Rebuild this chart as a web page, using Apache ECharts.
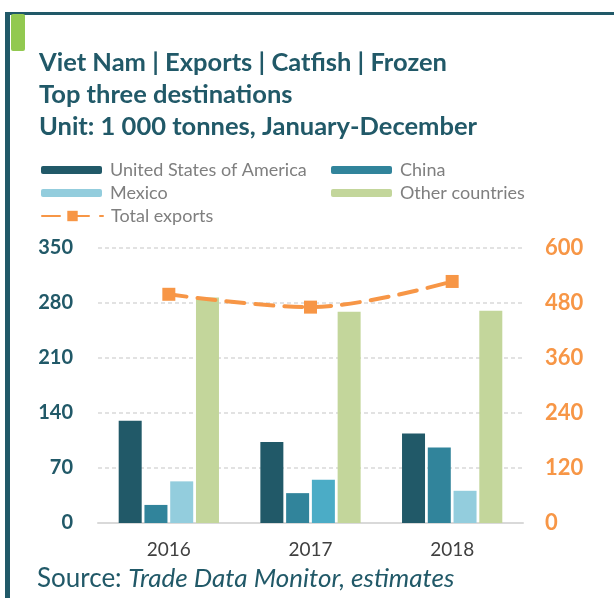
<!DOCTYPE html>
<html>
<head>
<meta charset="utf-8">
<script src="https://cdn.jsdelivr.net/npm/echarts@6/dist/echarts.min.js"></script>
<style>
  html, body { margin: 0; padding: 0; background: #fff; }
  #main { width: 614px; height: 598px; }
</style>
</head>
<body>
<div id="main"></div>
<script>
// categories and values (1 000 tonnes)
var years = ['2016', '2017', '2018'];
var usa = [130, 103, 114];
var china = [23, 38, 96];
var mexico = [53, 55, 41];
var others = [287, 269, 270];
var total = [499, 471, 527];

var leftTicks = [0, 70, 140, 210, 280, 350];
var rightTicks = [0, 120, 240, 360, 480, 600];

var teal = '#215968';
var font = 'Lato';

var myChart = echarts.init(document.getElementById('main'));

// mexico 2017 bar is drawn in a brighter blue in the original
var mexicoData = mexico.map(function (v, i) {
    return i === 1 ? { value: v, itemStyle: { color: '#4bacc6' } } : v;
});

function legendAt(name, left, top) {
    return {
        data: [name],
        left: left,
        top: top,
        itemWidth: 61,
        itemHeight: 8,
        itemGap: 0,
        textStyle: { color: '#7f7f7f', fontSize: 18, fontFamily: font, padding: [0, 0, 0, 3] },
        selectedMode: false
    };
}

myChart.setOption({
    animation: false,
    backgroundColor: '#fff',
    title: {
        text: 'Viet Nam | Exports | Catfish | Frozen\nTop three destinations\nUnit: 1 000 tonnes, January-December',
        left: 34,
        top: 42,
        textStyle: { color: teal, fontSize: 25.5, fontWeight: 'bold', fontFamily: font, lineHeight: 32 }
    },
    graphic: [
        // frame
        { type: 'rect', shape: { x: 5, y: 12, width: 609, height: 3 }, style: { fill: teal } },
        { type: 'rect', shape: { x: 5, y: 12, width: 5, height: 586 }, style: { fill: teal } },
        { type: 'rect', shape: { x: 11, y: 14, width: 14, height: 37, r: 2 }, style: { fill: '#92c950' } },
        {
            type: 'text', left: 37, top: 566,
            style: {
                text: '{n|Source: }{i|Trade Data Monitor, estimates}',
                rich: {
                    n: { fontSize: 26, fontFamily: font, fill: teal },
                    i: { fontSize: 26, fontFamily: font, fontStyle: 'italic', fill: teal }
                }
            }
        }
    ],
    legend: [
        legendAt('United States of America', 36, 156),
        legendAt('China', 326, 156),
        legendAt('Mexico', 36, 179),
        legendAt('Other countries', 326, 179),
        Object.assign(legendAt('Total exports', 36, 202), { itemHeight: 13 })
    ],
    grid: { left: 98, right: 91, top: 248, bottom: 75 },
    xAxis: {
        type: 'category',
        data: years,
        axisTick: { show: false },
        axisLine: { lineStyle: { color: '#d9d9d9', width: 2 } },
        axisLabel: { color: '#404040', fontSize: 19, fontFamily: font, margin: 17 }
    },
    yAxis: [
        {
            type: 'value',
            min: leftTicks[0],
            max: leftTicks[leftTicks.length - 1],
            interval: leftTicks[1] - leftTicks[0],
            axisLine: { show: false },
            axisTick: { show: false },
            splitLine: { lineStyle: { color: '#d9d9d9', type: [4, 3], width: 1.5 } },
            axisLabel: { color: teal, fontSize: 20, fontWeight: 'bold', fontFamily: font, margin: 25 }
        },
        {
            type: 'value',
            min: rightTicks[0],
            max: rightTicks[rightTicks.length - 1],
            interval: rightTicks[1] - rightTicks[0],
            axisLine: { show: false },
            axisTick: { show: false },
            splitLine: { show: false },
            axisLabel: { color: '#f79646', fontSize: 22, fontWeight: 'bold', fontFamily: font, margin: 22 }
        }
    ],
    series: [
        {
            name: 'United States of America', type: 'bar', data: usa,
            barWidth: 23, barGap: '12%', itemStyle: { color: teal }
        },
        {
            name: 'China', type: 'bar', data: china,
            barWidth: 23, barGap: '12%', itemStyle: { color: '#31849b' }
        },
        {
            name: 'Mexico', type: 'bar', data: mexicoData,
            barWidth: 23, barGap: '12%', itemStyle: { color: '#93cddd' }
        },
        {
            name: 'Other countries', type: 'bar', data: others,
            barWidth: 23, barGap: '12%', itemStyle: { color: '#c3d69b' }
        },
        {
            name: 'Total exports', type: 'line', yAxisIndex: 1, data: total,
            smooth: 0.35,
            symbol: 'rect', symbolSize: 13,
            itemStyle: { color: '#f79646' },
            lineStyle: { color: '#f79646', width: 4, type: [18, 11], cap: 'round' }
        }
    ]
});
</script>
</body>
</html>
